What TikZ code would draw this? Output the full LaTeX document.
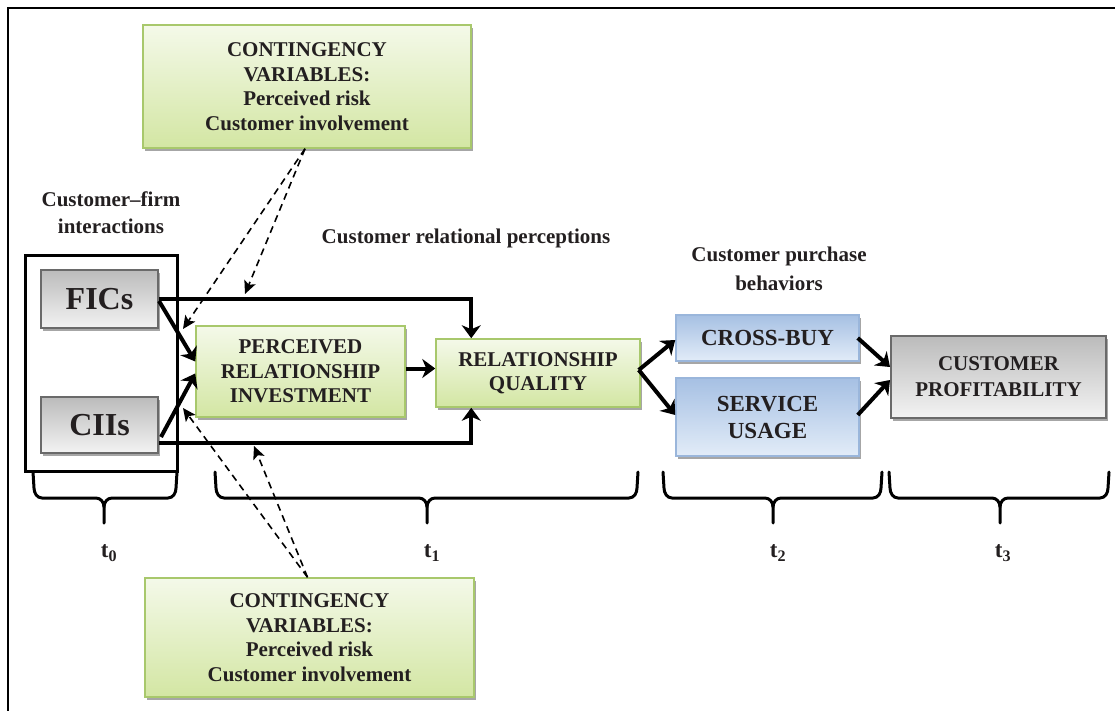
\documentclass[tikz,border=0pt]{standalone}
\usepackage{fontspec}
\setmainfont{Liberation Serif}
\usetikzlibrary{arrows.meta,shadows,calc}
\definecolor{grtop}{HTML}{F4F9E9}
\definecolor{grbot}{HTML}{D3E6A3}
\definecolor{grline}{HTML}{A8C86C}
\definecolor{bltop}{HTML}{A6C0E3}
\definecolor{blbot}{HTML}{E2ECF8}
\definecolor{blline}{HTML}{9AB6DB}
\definecolor{gytop}{HTML}{BBBBBB}
\definecolor{gybot}{HTML}{F3F3F3}
\definecolor{gyline}{HTML}{6A6A6A}
\definecolor{ink}{HTML}{231F20}
\begin{document}
\begin{tikzpicture}[x=1pt,y=-1pt,
  every node/.style={text=ink},
  boxbase/.style={inner sep=0pt, align=center, font=\fontsize{21}{24.5}\selectfont\bfseries,
    drop shadow={shadow xshift=2pt, shadow yshift=-3pt, fill=black!35, opacity=1}},
  greenbox/.style={boxbase, draw=grline, line width=1.5pt, top color=grtop, bottom color=grbot},
  bluebox/.style={boxbase, draw=blline, line width=1.5pt, top color=bltop, bottom color=blbot},
  graybox/.style={boxbase, draw=gyline, line width=2pt, top color=gytop, bottom color=gybot},
  lbl/.style={align=center, font=\fontsize{21}{27}\selectfont\bfseries},
  flow/.style={line width=4pt, -{Stealth[length=13pt,width=19pt,inset=4pt]}},
  modline/.style={line width=1.6pt, dash pattern=on 7pt off 5pt, -{Stealth[length=13pt,width=12pt,inset=3pt]}},
  bracestyle/.style={line width=3pt, line cap=round}
]
\useasboundingbox (0,0) rectangle (1115,711);
% frame
\draw[line width=2pt] (8,711) -- (8,8) -- (1115,8);

% contingency boxes
\node[greenbox, minimum width=328pt, minimum height=123pt] (top) at (307,86.5)
  {CONTINGENCY\\VARIABLES:\\Perceived risk\\Customer involvement};
\node[greenbox, minimum width=329pt, minimum height=119pt] (bot) at (309.5,637.5)
  {CONTINGENCY\\VARIABLES:\\Perceived risk\\Customer involvement};

% labels
\node[lbl] (lcf) at (111,213) {Customer--firm\\interactions};
\node[lbl] (lcr) at (466,238) {Customer relational perceptions};
\node[lbl, font=\fontsize{21}{29}\selectfont\bfseries] (lcp) at (779,268.5) {Customer purchase\\behaviors};

% t0 group box
\draw[line width=3pt] (25,255) rectangle (177,471);
\node[graybox, minimum width=117pt, minimum height=58pt, font=\fontsize{32}{34}\selectfont\bfseries] (fic) at (99.5,299) {FICs};
\node[graybox, minimum width=117pt, minimum height=56pt, font=\fontsize{32}{34}\selectfont\bfseries] (cii) at (99.5,425) {CIIs};

\node[greenbox, minimum width=209pt, minimum height=91pt] (pri) at (300.5,371.5)
  {PERCEIVED\\RELATIONSHIP\\INVESTMENT};
\node[greenbox, minimum width=204pt, minimum height=68pt] (rq) at (538,373)
  {\raisebox{-3pt}{\parbox{204pt}{\centering RELATIONSHIP\\QUALITY}}};
\node[bluebox, minimum width=183pt, minimum height=46pt, font=\fontsize{23}{27}\selectfont\bfseries] (cb) at (767.5,338) {CROSS-BUY};
\node[bluebox, minimum width=183pt, minimum height=78pt, font=\fontsize{23}{27}\selectfont\bfseries] (su) at (767.5,417) {SERVICE\\USAGE};
\node[graybox, minimum width=215pt, minimum height=82pt, font=\fontsize{21}{26}\selectfont\bfseries] (cp) at (998.5,377) {CUSTOMER\\PROFITABILITY};

% solid arrows
\draw[flow] (fic.east) -| ($(rq.north west)+(36,0)$);
\draw[flow] ($(cii.south east)+(0,-11)$) -| ($(rq.south west)+(36,0)$);
\draw[flow] ($(fic.east)+(0,2)$) -- ($(pri.west)+(0,-10)$);
\draw[flow] ($(cii.east)+(2,12)$) -- ($(pri.west)+(0,2)$);
\draw[flow] ($(pri.east)+(0,-3)$) -- ($(rq.west)+(0,-4.5)$);
\draw[flow] ($(rq.east)+(-2,-3)$) -- ($(cb.west)+(0,2)$);
\draw[flow] ($(rq.east)+(-2,-3)$) -- ($(su.west)+(0,-2)$);
\draw[flow] ($(cb.east)+(-2,0)$) -- ($(cp.west)+(0,-10)$);
\draw[flow] ($(su.east)+(-2,-2)$) -- ($(cp.west)+(0,3)$);

% dashed moderator arrows
\coordinate (d1) at (245,294);
\coordinate (d2) at (183,329);
\coordinate (d3) at (183,408);
\coordinate (d4) at (254,446);
\draw[modline] ($(top.south)+(-2,0)$) -- (d1);
\draw[modline] ($(top.south)+(-2,0)$) -- (d2);
\draw[modline] ($(bot.north)+(-2,0)$) -- (d3);
\draw[modline] ($(bot.north)+(-2,0)$) -- (d4);

% braces
\newcommand\timebrace[3]{%
  \draw[bracestyle] (#1-1,472) -- (#1,488) to[out=-90,in=180] (#1+8,498) -- (#3-8,498)
     to[out=0,in=90] (#3,507) -- (#3,523);
  \draw[bracestyle] (#3,507) to[out=90,in=180] (#3+8,498) -- (#2-8,498)
     to[out=0,in=-90] (#2,488) -- (#2+1,472);}
\timebrace{34}{176}{104}
\timebrace{216}{637}{427}
\timebrace{664}{881}{773}
\timebrace{890}{1108}{1000}
\node[lbl, font=\fontsize{23}{27}\selectfont\bfseries] (t0) at (109,553) {t\textsubscript{0}};
\node[lbl, font=\fontsize{23}{27}\selectfont\bfseries] (t1) at (432,553) {t\textsubscript{1}};
\node[lbl, font=\fontsize{23}{27}\selectfont\bfseries] (t2) at (778,553) {t\textsubscript{2}};
\node[lbl, font=\fontsize{23}{27}\selectfont\bfseries] (t3) at (1003,553) {t\textsubscript{3}};
\end{tikzpicture}
\end{document}
